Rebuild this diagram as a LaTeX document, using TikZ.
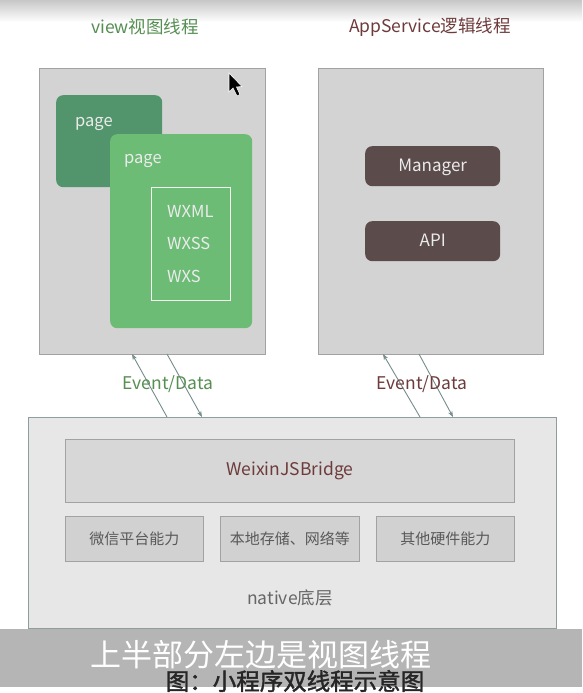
\documentclass[tikz,border=0pt]{standalone}
\usepackage{fontspec}
\setmainfont{Noto Sans CJK SC}[AutoFakeBold=1.6]
\usetikzlibrary{arrows.meta,calc}
\definecolor{viewgreen}{HTML}{558F52}
\definecolor{appbrown}{HTML}{6E3B3B}
\definecolor{boxfill}{HTML}{D3D3D3}
\definecolor{boxline}{HTML}{A2A2A2}
\definecolor{darkpage}{HTML}{52956C}
\definecolor{lightpage}{HTML}{6CBC76}
\definecolor{mgr}{HTML}{5B4B4B}
\definecolor{nativefill}{HTML}{E7E7E7}
\definecolor{nativeline}{HTML}{8E9E9E}
\definecolor{bridgefill}{HTML}{D7D7D7}
\definecolor{arrowc}{HTML}{768C8C}
\definecolor{band}{HTML}{B5B5B5}
\tikzset{
  thread/.style={draw=boxline, fill=boxfill, line width=1pt, minimum width=#1, anchor=north west, inner sep=0pt},
  pagebox/.style={rounded corners=7pt, anchor=north west, inner sep=0pt},
  mgrbox/.style={fill=mgr, rounded corners=7pt, anchor=north west, inner sep=0pt, minimum width=135pt, minimum height=40pt, text=white!92!black, font=\fontsize{17}{20}\selectfont, text height=11.5pt, text depth=0pt},
  capbox/.style={draw=boxline, fill=boxfill!105!white, line width=0.8pt, anchor=north west, inner sep=0pt, minimum width=138pt, minimum height=45pt, text=black!65, font=\fontsize{15}{18}\selectfont},
  flow/.style={draw=arrowc, line width=0.9pt, -{Stealth[length=6pt,width=4.5pt]}},
  lbl/.style={font=\fontsize{17.5}{20}\selectfont, inner sep=0pt},
  wtxt/.style={text=white!92!black, font=\fontsize{16.5}{20}\selectfont, inner sep=0pt, anchor=base west}
}
\begin{document}
\begin{tikzpicture}[x=1pt,y=-1pt]
\useasboundingbox (0,0) rectangle (582,693);
\fill[white] (0,0) rectangle (582,693);
\shade[top color=black!22, bottom color=white] (0,0) rectangle (582,22);
% titles
\node[lbl, text=viewgreen] (t1) at (145,27) {view视图线程};
\node[lbl, text=appbrown] (t2) at (430,27) {AppService逻辑线程};
% view thread
\node[thread=226pt, minimum height=286pt] (view) at (39,68) {};
\node[pagebox, fill=darkpage, minimum width=106pt, minimum height=92pt] (p1) at (56,95) {};
\node[wtxt] (p1t) at (75,126.5) {page};
\node[pagebox, fill=lightpage, minimum width=142pt, minimum height=194pt] (p2) at (110,134) {};
\node[wtxt] (p2t) at (124,163.5) {page};
\node[draw=white!90!lightpage, line width=1pt, anchor=north west, inner sep=0pt, minimum width=79pt, minimum height=113pt] (files) at (151,187) {};
\node[wtxt] (wxml) at (167,217.5) {WXML};
\node[wtxt] (wxss) at (167,249) {WXSS};
\node[wtxt] (wxs) at (167,282) {WXS};
% cursor
\filldraw[fill=black, draw=white, line width=0.6pt] (229,73) -- (229,92) -- (233,88) -- (237,96) -- (240,94.5) -- (236.5,87) -- (242,86.5) -- cycle;
% appservice thread
\node[thread=225pt, minimum height=286pt] (app) at (318,68) {};
\node[mgrbox] (manager) at (365,146) {Manager};
\node[mgrbox] (api) at (365,221) {API};
% native
\node[draw=nativeline, fill=nativefill, line width=1pt, anchor=north west, inner sep=0pt, minimum width=528pt, minimum height=211pt] (native) at (28,417) {};
\node[draw=boxline, fill=bridgefill, line width=0.8pt, anchor=north west, inner sep=0pt, minimum width=449pt, minimum height=63pt, text=appbrown, font=\fontsize{17.5}{20}\selectfont] (bridge) at (65,439) {WeixinJSBridge};
\node[capbox] (c1) at (65,516) {微信平台能力};
\node[capbox, minimum width=139pt] (c2) at (220,516) {本地存储、网络等};
\node[capbox] (c3) at (376,516) {其他硬件能力};
\node[lbl, text=black!60] (nat) at (290,598) {native底层};
% arrows
\coordinate (a1b) at (167,417);
\coordinate (a1t) at (132,354);
\coordinate (a2t) at (167,354);
\coordinate (a2b) at (202,417);
\coordinate (b1b) at (420,417);
\coordinate (b1t) at (383,354);
\coordinate (b2t) at (419,354);
\coordinate (b2b) at (453,417);
\draw[flow] (a1b) -- (a1t);
\draw[flow] (a2t) -- (a2b);
\draw[flow] (b1b) -- (b1t);
\draw[flow] (b2t) -- (b2b);
\node[lbl, text=viewgreen] (ev1) at (168,384.5) {Event/Data};
\node[lbl, text=appbrown] (ev2) at (422,384.5) {Event/Data};
% subtitle band
\fill[band] (0,629) rectangle (582,687);
\node[inner sep=0pt, text=white, font=\fontsize{31}{34}\selectfont] (sub) at (261,655) {上半部分左边是视图线程};
\node[inner sep=0pt, text=black!85, font=\fontsize{23.5}{26}\selectfont\bfseries] (cap) at (295,681) {图：小程序双线程示意图};
\end{tikzpicture}
\end{document}
